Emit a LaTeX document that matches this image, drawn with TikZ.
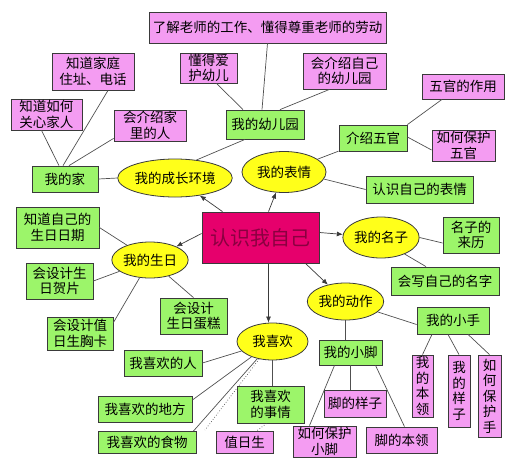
\documentclass[tikz,border=0pt]{standalone}
\usepackage{fontspec}
\setmainfont{Noto Sans CJK SC}
\usetikzlibrary{shapes.geometric,arrows.meta}
\definecolor{pk}{HTML}{F49CF2}
\definecolor{gr}{HTML}{9CF56A}
\definecolor{yl}{HTML}{FFFF1A}
\definecolor{cr}{HTML}{E6006C}
\definecolor{crt}{HTML}{8A0040}
\definecolor{edge}{HTML}{3A3A3A}
\definecolor{lnc}{HTML}{505050}
\tikzset{
  base/.style={draw=edge, line width=0.8pt, inner sep=0pt, align=center,
    font=\fontsize{13.5}{15.5}\selectfont},
  pbox/.style={base, rectangle, fill=pk},
  gbox/.style={base, rectangle, fill=gr},
  ell/.style={base, ellipse, fill=yl},
  ln/.style={draw=lnc, line width=0.7pt},
  arr/.style={draw=edge, line width=0.7pt, -{Latex[length=6pt,width=5pt]}},
  dots/.style={draw=lnc, line width=0.7pt, dotted}
}
\begin{document}
\begin{tikzpicture}[x=1pt,y=-1pt]
\useasboundingbox (0,0) rectangle (520,472);
% top
\node[pbox, minimum width=237pt, minimum height=31pt] (t1) at (267.5,27.5) {了解老师的工作、懂得尊重老师的劳动};
\node[pbox, minimum width=82pt, minimum height=37pt] (home1) at (93,71.5) {知道家庭\\住址、电话};
\node[pbox, minimum width=71pt, minimum height=31pt] (home2) at (46.5,114.5) {知道如何\\关心家人};
\node[pbox, minimum width=72pt, minimum height=31pt] (home3) at (150,125.5) {会介绍家\\里的人};
\node[pbox, minimum width=57pt, minimum height=30pt] (kg1) at (208.5,68) {懂得爱\\护幼儿};
\node[pbox, minimum width=83pt, minimum height=36pt] (kg3) at (344.5,71) {会介绍自己\\的幼儿园};
\node[gbox, minimum width=78pt, minimum height=29pt] (kg) at (265,124.5) {我的幼儿园};
\node[pbox, minimum width=82pt, minimum height=25pt] (f1) at (463,86.5) {五官的作用};
\node[gbox, minimum width=68pt, minimum height=26pt] (face) at (373,138) {介绍五官};
\node[pbox, minimum width=63pt, minimum height=31pt] (f2) at (463.5,145.5) {如何保护\\五官};
\node[gbox, minimum width=66pt, minimum height=26pt] (home) at (65,179) {我的家};
\node[ell, minimum width=104pt, minimum height=38pt] (env) at (175,178) {我的成长环境};
\node[ell, minimum width=84pt, minimum height=41pt] (expr) at (284,172) {我的表情};
\node[gbox, minimum width=107pt, minimum height=27pt] (e1) at (419.5,189.5) {认识自己的表情};
% center
\node[base, rectangle, fill=cr, text=crt, minimum width=117pt, minimum height=51pt,
  font=\fontsize{20}{24}\selectfont] (center) at (260.5,237.5) {认识我自己};
% birthday
\node[gbox, minimum width=83pt, minimum height=41pt] (b1) at (57.5,227.5) {知道自己的\\生日日期};
\node[ell, minimum width=74pt, minimum height=36pt] (bday) at (150,260) {我的生日};
\node[gbox, minimum width=67pt, minimum height=36pt] (b2) at (59.5,281) {会设计生\\日贺片};
\node[gbox, minimum width=67pt, minimum height=36pt] (b3) at (193.5,316) {会设计\\生日蛋糕};
\node[gbox, minimum width=66pt, minimum height=33pt] (b4) at (80,333.5) {会设计值\\日生胸卡};
% likes
\node[gbox, minimum width=78pt, minimum height=26pt] (l1) at (163,363) {我喜欢的人};
\node[gbox, minimum width=94pt, minimum height=26pt] (l2) at (145,409) {我喜欢的地方};
\node[gbox, minimum width=98pt, minimum height=22pt] (l3) at (147,442.5) {我喜欢的食物};
\node[pbox, minimum width=57pt, minimum height=22pt] (duty) at (244.5,442.5) {值日生};
\node[ell, minimum width=71pt, minimum height=37pt] (like) at (272.5,341.5) {我喜欢};
\node[gbox, minimum width=67pt, minimum height=37pt] (l4) at (270.5,404.5) {我喜欢\\的事情};
\coordinate (dotend) at (205,430);
% name
\node[ell, minimum width=72pt, minimum height=41pt] (name) at (381,237.5) {我的名子};
\node[gbox, minimum width=56pt, minimum height=36pt] (n1) at (471,235) {名子的\\来历};
\node[gbox, minimum width=108pt, minimum height=28pt] (n2) at (445,281) {会写自己的名字};
% actions
\node[ell, minimum width=73pt, minimum height=37pt] (act) at (345.5,301.5) {我的动作};
\node[gbox, minimum width=72pt, minimum height=27pt] (hand) at (453,320.5) {我的小手};
\node[gbox, minimum width=63pt, minimum height=25pt] (foot) at (350.5,352.5) {我的小脚};
\node[pbox, minimum width=62pt, minimum height=27pt] (ft1) at (355,403.5) {脚的样子};
\node[pbox, minimum width=63pt, minimum height=31pt] (ft2) at (324.5,441.5) {如何保护\\小脚};
\node[pbox, minimum width=71pt, minimum height=26pt] (ft3) at (401.5,440) {脚的本领};
\node[pbox, minimum width=21pt, minimum height=62pt] (h1) at (422.5,386) {我\\的\\本\\领};
\node[pbox, minimum width=22pt, minimum height=72pt] (h2) at (459,391) {我\\的\\样\\子};
\node[pbox, minimum width=23pt, minimum height=82pt] (h3) at (489.5,396) {如\\何\\保\\护\\手};

% arrows from center
\draw[arr] ([xshift=-38pt]center.north) -- (env);
\draw[arr] ([xshift=8pt]center.north) -- (expr);
\draw[arr] ([yshift=5pt]center.east) -- (name);
\draw[arr] ([xshift=45pt]center.south) -- (act);
\draw[arr] ([xshift=8pt]center.south) -- ([xshift=-4pt]like.north);
\draw[arr] ([yshift=4pt]center.west) -- (bday);

% environment branch
\draw[ln] (home.east) -- (env.west);
\draw[ln] (env.40) -- ([xshift=-20pt]kg.south);
\draw[ln] ([xshift=-6pt]home.north) -- ([xshift=-5pt]home2.south);
\draw[ln] ([xshift=-2pt]home.north) -- ([xshift=15pt]home1.south);
\draw[ln] ([xshift=4pt]home.north) -- ([yshift=3pt]home3.south west);
\draw[ln] ([xshift=-22pt]kg.north) -- ([xshift=8pt]kg1.south);
\draw[ln] ([xshift=-3pt]kg.north) -- (t1.south);
\draw[ln] ([xshift=15pt]kg.north) -- ([xshift=-15pt]kg3.south);

% expression branch
\draw[ln] (expr) -- (face);
\draw[ln] (expr.-10) -- (e1.west);
\draw[ln] (face.north east) -- ([xshift=-21pt]f1.south);
\draw[ln] ([yshift=1pt]face.east) -- ([yshift=-4.5pt]f2.west);

% name branch
\draw[ln] (name.east) -- ([yshift=-8pt]n1.west);
\draw[ln] (name.-35) -- ([xshift=-19pt]n2.north);

% birthday branch
\draw[ln] (bday) -- (b1.east);
\draw[ln] (bday) -- (b2.east);
\draw[ln] (bday) -- (b3.north);
\draw[ln] (bday) -- ([yshift=-6pt]b4.north east);

% likes branch
\draw[ln] (like) -- (l1.east);
\draw[ln] (like) -- ([yshift=9pt]l2.east);
\draw[ln] (like) -- ([xshift=-3pt]l3.north east);
\draw[ln] (like.south) -- (like.south |- l4.north);
\draw[dots] (like) -- (dotend);
\draw[dots] ([xshift=-4pt]l4.south) -- ([xshift=12pt]duty.north);

% action branch
\draw[ln] (act) -- ([yshift=-4pt]hand.west);
\draw[ln] (act.south) -- (act.south |- foot.north);
\draw[ln] ([xshift=-21pt]hand.south) -- (h1.north);
\draw[ln] ([xshift=-5pt]hand.south) -- (h2.north);
\draw[ln] ([xshift=15pt]hand.south) -- (h3.north);
\draw[ln] (foot.south) -- (foot.south |- ft1.north);
\draw[ln] ([xshift=-16pt]foot.south) -- ([xshift=-15pt]ft2.north);
\draw[ln] ([xshift=25pt]foot.south) -- ([xshift=3pt]ft3.north);
\end{tikzpicture}
\end{document}
